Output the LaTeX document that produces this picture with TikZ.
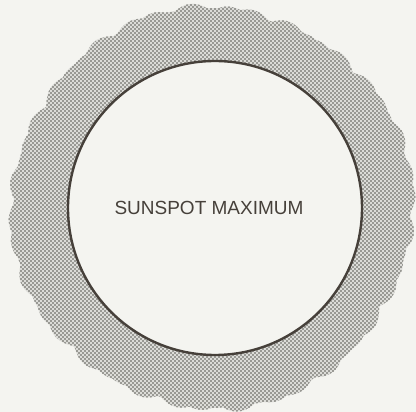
\documentclass[tikz,border=0pt]{standalone}
\usepackage{fontspec}
\setmainfont{Liberation Sans}
\usetikzlibrary{patterns}
\pgfdeclarepatternformonly{halftone}{\pgfqpoint{-1pt}{-1pt}}{\pgfqpoint{5pt}{5pt}}{\pgfqpoint{4pt}{4pt}}{%
  \pgfpathcircle{\pgfqpoint{1pt}{1pt}}{0.95pt}%
  \pgfpathcircle{\pgfqpoint{3pt}{3pt}}{0.95pt}%
  \pgfusepath{fill}}
\definecolor{bg}{RGB}{244,244,240}
\definecolor{ink}{RGB}{70,64,58}
\definecolor{dotc}{RGB}{85,85,80}
\newcommand{\rad}[1]{(196+4*abs(sin(12*#1+10))+3.5*abs(sin(19*#1+50))+3*cos(#1-180)+2*sin(4*#1+30))}
\tikzset{
  sun/.style={circle, draw=ink, line width=2.4pt, fill=bg, minimum size=294pt, inner sep=0pt},
  caption/.style={font=\fontsize{19}{22}\selectfont, text=ink}
}
\begin{document}
\begin{tikzpicture}[x=1pt,y=1pt]
\useasboundingbox (0,0) rectangle (416,412);
\fill[bg] (0,0) rectangle (416,412);
\coordinate (c) at (215,204);
\fill[bg!90!black] plot[domain=0:360, samples=721, smooth cycle, variable=\t]
  ({215+\rad{\t}*cos(\t)}, {204+\rad{\t}*sin(\t)});
\fill[pattern=halftone, pattern color=dotc] plot[domain=0:360, samples=721, smooth cycle, variable=\t]
  ({215+\rad{\t}*cos(\t)}, {204+\rad{\t}*sin(\t)});
\node[sun] (disk) at (c) {};
\node[caption] (label) at (209,204) {SUNSPOT MAXIMUM};
\end{tikzpicture}
\end{document}
